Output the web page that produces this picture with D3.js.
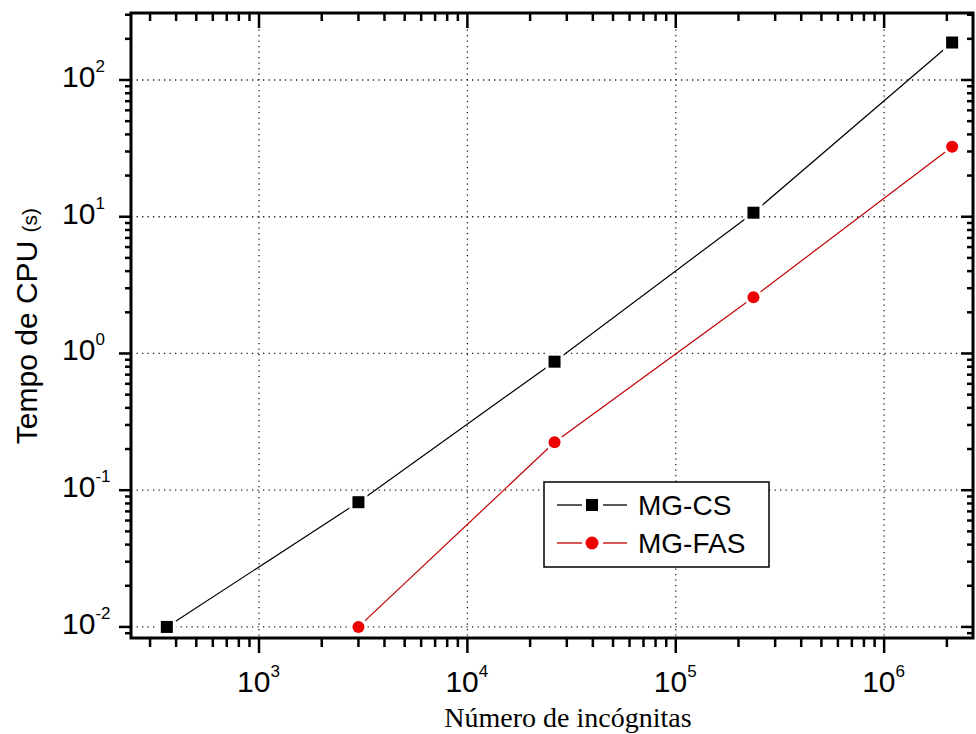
<!DOCTYPE html>
<html><head><meta charset="utf-8">
<script src="https://cdn.jsdelivr.net/npm/d3@7"></script>
<style>body{margin:0;background:#fff}</style></head>
<body><svg id="c" width="976" height="734"></svg>
<script>
// Data
const unknowns = [361, 3000, 26200, 236000, 2120000];
const mgCS  = [0.01, 0.0817, 0.871, 10.7, 188];
const unknownsFAS = [3000, 26200, 236000, 2120000];
const mgFAS = [0.01, 0.224, 2.58, 32.5];
const xMajor = [1e3, 1e4, 1e5, 1e6];
const yMajor = [1e-2, 1e-1, 1e0, 1e1, 1e2];
const seriesNames = ["MG-CS", "MG-FAS"];

const svg = d3.select("#c");
const L = 131, R = 973, T = 13, B = 638;
const x = d3.scaleLog().domain([243, 2.67e6]).range([L, R]);
const y = d3.scaleLog().domain([0.0083, 309]).range([B, T]);

// minor ticks
function logTicks(sc) {
  const [a, b] = sc.domain();
  const out = [];
  for (let e = Math.floor(Math.log10(a)); e <= Math.ceil(Math.log10(b)); e++) {
    for (let m = 1; m <= 9; m++) {
      const v = m * Math.pow(10, e);
      if (v >= a && v <= b) out.push({v, major: m === 1});
    }
  }
  return out;
}
const xt = logTicks(x), yt = logTicks(y);

// grid
const grid = svg.append("g").attr("stroke", "#222").attr("stroke-width", 1.3)
  .attr("stroke-dasharray", "1.3,4.2");
grid.selectAll(".gx").data(xMajor).join("line")
  .attr("x1", d => x(d)).attr("x2", d => x(d)).attr("y1", T).attr("y2", B);
grid.selectAll(".gy").data(yMajor).join("line")
  .attr("y1", d => y(d)).attr("y2", d => y(d)).attr("x1", L).attr("x2", R);

// ticks
const tk = svg.append("g").attr("stroke", "#000").attr("stroke-width", 2.5);
tk.selectAll(".tb").data(xt).join("line")
  .attr("x1", d => x(d.v)).attr("x2", d => x(d.v))
  .attr("y1", B).attr("y2", d => B + (d.major ? 15 : 9));
tk.selectAll(".tt").data(xt).join("line")
  .attr("x1", d => x(d.v)).attr("x2", d => x(d.v))
  .attr("y1", T).attr("y2", d => T + (d.major ? 15 : 8));
tk.selectAll(".tl").data(yt).join("line")
  .attr("y1", d => y(d.v)).attr("y2", d => y(d.v))
  .attr("x1", L).attr("x2", d => L - (d.major ? 12 : 6));
tk.selectAll(".tr").data(yt).join("line")
  .attr("y1", d => y(d.v)).attr("y2", d => y(d.v))
  .attr("x1", R).attr("x2", d => R - (d.major ? 12 : 6));

// frame
svg.append("rect").attr("x", L).attr("y", T).attr("width", R - L).attr("height", B - T)
  .attr("fill", "none").attr("stroke", "#000").attr("stroke-width", 3);

// tick labels
const font = "Liberation Sans, Arial, sans-serif";
xMajor.forEach(v => {
  const t = svg.append("text").attr("x", x(v) - 22).attr("y", 692)
    .attr("font-family", font).attr("font-size", 30).attr("fill", "#000");
  t.append("tspan").text("10");
  t.append("tspan").attr("font-size", 17).attr("dy", -15).text(Math.round(Math.log10(v)));
});
yMajor.forEach(v => {
  const e = Math.round(Math.log10(v));
  const t = svg.append("text").attr("x", 62).attr("y", y(v) + 7)
    .attr("font-family", font).attr("font-size", 30).attr("fill", "#000");
  t.append("tspan").text("10");
  t.append("tspan").attr("font-size", 17).attr("dy", -15).text(e < 0 ? "-" + (-e) : e);
});

// axis titles
svg.append("text").attr("x", 568).attr("y", 727).attr("text-anchor", "middle")
  .attr("font-family", "Liberation Serif, Times New Roman, serif").attr("font-size", 28)
  .text("Número de incógnitas");
const yt2 = svg.append("text").attr("transform", "translate(37,326) rotate(-90)")
  .attr("text-anchor", "middle").attr("font-family", font).attr("font-size", 30);
yt2.append("tspan").text("Tempo de CPU ");
yt2.append("tspan").attr("font-size", 21).text("(s)");

// lines
const line = d3.line().x(d => x(d[0])).y(d => y(d[1]));
const csData = unknowns.map((u, i) => [u, mgCS[i]]);
const fasData = unknownsFAS.map((u, i) => [u, mgFAS[i]]);
svg.append("path").datum(csData).attr("d", line).attr("fill", "none")
  .attr("stroke", "#000").attr("stroke-width", 1.2);
svg.append("path").datum(fasData).attr("d", line).attr("fill", "none")
  .attr("stroke", "#c00000").attr("stroke-width", 1.2);

// markers with white halo
svg.selectAll(".csh").data(csData).join("rect")
  .attr("x", d => x(d[0]) - 9).attr("y", d => y(d[1]) - 9).attr("width", 18).attr("height", 18)
  .attr("fill", "#fff");
svg.selectAll(".cs").data(csData).join("rect")
  .attr("x", d => x(d[0]) - 6).attr("y", d => y(d[1]) - 6).attr("width", 12).attr("height", 12)
  .attr("fill", "#000");
svg.selectAll(".fash").data(fasData).join("circle")
  .attr("cx", d => x(d[0])).attr("cy", d => y(d[1])).attr("r", 9).attr("fill", "#fff");
svg.selectAll(".fas").data(fasData).join("circle")
  .attr("cx", d => x(d[0])).attr("cy", d => y(d[1])).attr("r", 6).attr("fill", "#ee0000");

// legend
const lg = svg.append("g");
lg.append("rect").attr("x", 544).attr("y", 482).attr("width", 225).attr("height", 85)
  .attr("fill", "#fff").attr("stroke", "#000").attr("stroke-width", 1.5);
const rows = [{n: seriesNames[0], c: "#000", ms: "sq", y: 505}, {n: seriesNames[1], c: "#c00000", ms: "ci", y: 543}];
rows.forEach(r => {
  lg.append("line").attr("x1", 557).attr("x2", 582).attr("y1", r.y).attr("y2", r.y)
    .attr("stroke", r.c).attr("stroke-width", 1.3);
  lg.append("line").attr("x1", 603).attr("x2", 627).attr("y1", r.y).attr("y2", r.y)
    .attr("stroke", r.c).attr("stroke-width", 1.3);
  if (r.ms === "sq") lg.append("rect").attr("x", 586).attr("y", r.y - 6).attr("width", 12).attr("height", 12).attr("fill", "#000");
  else lg.append("circle").attr("cx", 592).attr("cy", r.y).attr("r", 6.5).attr("fill", "#ee0000");
  lg.append("text").attr("x", 638).attr("y", r.y + 10).attr("font-family", font)
    .attr("font-size", 28).text(r.n);
});
</script></body></html>
